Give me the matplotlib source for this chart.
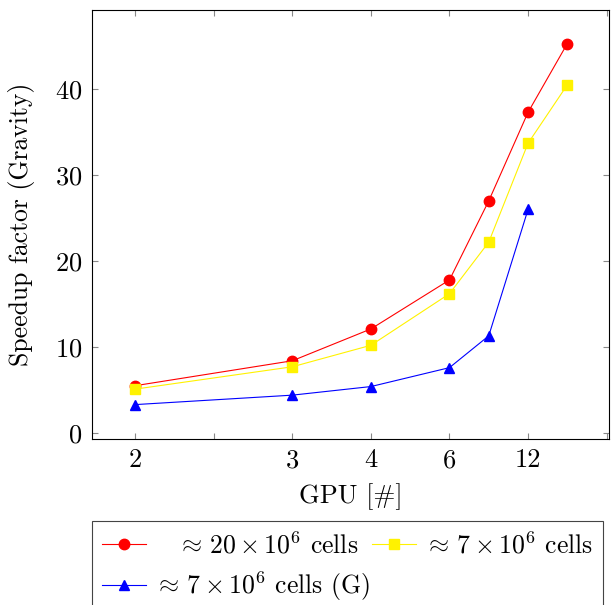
import matplotlib
matplotlib.use('Agg')
import matplotlib.pyplot as plt

# Data (x positions on the axis; labels at selected ticks)
x_pos = [0, 2, 3, 4, 4.5, 5, 5.5]
x_pos_g = [0, 2, 3, 4, 4.5, 5]
tick_pos = [0, 1, 2, 3, 4, 5, 6]
tick_labels = ["2", "", "3", "4", "6", "12", ""]

speedup_20m = [5.5, 8.4, 12.1, 17.8, 27.0, 37.3, 45.3]
speedup_7m = [5.1, 7.7, 10.2, 16.2, 22.2, 33.7, 40.5]
speedup_7m_g = [3.3, 4.4, 5.4, 7.6, 11.3, 26.0]

y_ticks = [0, 10, 20, 30, 40]

plt.rcParams['font.family'] = 'serif'
plt.rcParams['font.serif'] = ['cmr10']
plt.rcParams['mathtext.fontset'] = 'cm'
plt.rcParams['axes.formatter.use_mathtext'] = True
plt.rcParams['font.size'] = 19

fig = plt.figure(figsize=(6.14, 6.05), dpi=100)
ax = fig.add_axes([0.1498, 0.2744, 0.842, 0.709])

l1, = ax.plot(x_pos, speedup_20m, color='red', marker='o', markersize=7.5,
              linewidth=0.8, label=r"$\quad\approx\,20\times10^6$ cells")
l2, = ax.plot(x_pos, speedup_7m, color='#fff200', marker='s', markersize=7.2,
              linewidth=0.8, label=r"$\approx\,7\times10^6$ cells")
l3, = ax.plot(x_pos_g, speedup_7m_g, color='blue', marker='^', markersize=7,
              linewidth=0.8, label=r"$\approx\,7\times10^6$ cells (G)")

ax.set_xlim(-0.55, 6.03)
ax.set_ylim(-0.7, 49.2)
ax.set_xticks(tick_pos)
ax.set_xticklabels(tick_labels)
ax.set_yticks(y_ticks)
ax.tick_params(direction='in', top=True, right=True, length=4,
               color='#888888', width=0.8, pad=7)
for s in ax.spines.values():
    s.set_linewidth(0.8)

ax.set_xlabel("GPU [#]", labelpad=8)
ax.set_ylabel("Speedup factor (Gravity)", labelpad=14, fontsize=18.5)

leg = ax.legend(handles=[l1, l3, l2], ncol=2, loc='upper left',
                bbox_to_anchor=(0.0, -0.192), borderaxespad=0,
                fancybox=False, edgecolor='#444444', framealpha=1,
                handlelength=1.7, columnspacing=0.1, handletextpad=0.3,
                borderpad=0.4, labelspacing=0.45, fontsize=18.5)
leg.get_frame().set_linewidth(0.8)

fig.savefig("out.png", dpi=100)
